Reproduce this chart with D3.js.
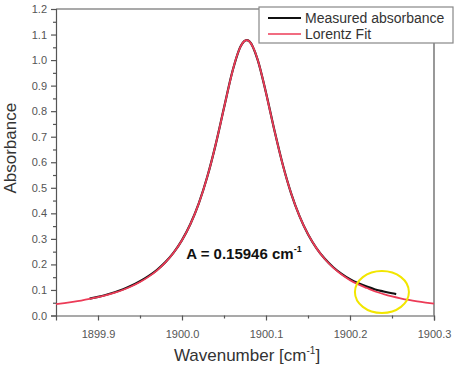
<!DOCTYPE html>
<html>
<head>
<meta charset="utf-8">
<script src="https://cdn.jsdelivr.net/npm/d3@7"></script>
<style>
  body { margin: 0; background: #fff; }
  svg { display: block; font-family: Arial, "Liberation Sans", sans-serif; }
  .tick text { fill: #555; font-size: 11px; }
</style>
</head>
<body>
<div id="chart"></div>
<script>
// Lorentz fit of the absorption line
const fitX = [1899.85, 1899.86, 1899.87, 1899.88, 1899.89, 1899.90, 1899.91, 1899.92,
  1899.93, 1899.94, 1899.95, 1899.96, 1899.97, 1899.98, 1899.99, 1900.00, 1900.005,
  1900.01, 1900.015, 1900.02, 1900.025, 1900.03, 1900.035, 1900.04, 1900.045, 1900.05,
  1900.055, 1900.06, 1900.065, 1900.07, 1900.075, 1900.077, 1900.08, 1900.085, 1900.09,
  1900.095, 1900.10, 1900.105, 1900.11, 1900.115, 1900.12, 1900.125, 1900.13, 1900.135,
  1900.14, 1900.15, 1900.16, 1900.17, 1900.18, 1900.19, 1900.20, 1900.21, 1900.22,
  1900.23, 1900.24, 1900.25, 1900.26, 1900.27, 1900.28, 1900.29, 1900.30]
const fitY = [0.0448, 0.0488, 0.0534, 0.0586, 0.0647, 0.0717, 0.0799, 0.0895,
  0.1009, 0.1146, 0.1311, 0.1512, 0.1759, 0.2067, 0.2456, 0.2949, 0.3245,
  0.3580, 0.3960, 0.4391, 0.4876, 0.5419, 0.6022, 0.6682, 0.7391, 0.8127,
  0.8859, 0.9545, 1.0127, 1.0549, 1.0761, 1.0780, 1.0737, 1.0480, 1.0021,
  0.9414, 0.8715, 0.7978, 0.7246, 0.6546, 0.5896, 0.5305, 0.4774, 0.4300,
  0.3881, 0.3183, 0.2638, 0.2212, 0.1874, 0.1604, 0.1386, 0.1218, 0.1075,
  0.0939, 0.0836, 0.0748, 0.0674, 0.0609, 0.0554, 0.0506, 0.0463]

// measured absorbance (black), only slightly off the fit in the tails
const measX = [1899.89, 1899.90, 1899.91, 1899.92, 1899.93, 1899.94, 1899.95, 1899.96,
  1899.97, 1899.98, 1899.99, 1900.00, 1900.01, 1900.02, 1900.03, 1900.04, 1900.05,
  1900.06, 1900.07, 1900.077, 1900.08, 1900.09, 1900.10, 1900.11, 1900.12, 1900.13,
  1900.14, 1900.15, 1900.16, 1900.17, 1900.18, 1900.19, 1900.20, 1900.21, 1900.22,
  1900.23, 1900.24, 1900.25, 1900.255]
const measY = [0.066, 0.073, 0.081, 0.091, 0.103, 0.117, 0.134, 0.154,
  0.178, 0.208, 0.246, 0.295, 0.358, 0.439, 0.542, 0.668, 0.813,
  0.955, 1.055, 1.078, 1.074, 1.002, 0.872, 0.725, 0.590, 0.477,
  0.388, 0.318, 0.264, 0.222, 0.189, 0.163, 0.142, 0.126, 0.113,
  0.102, 0.094, 0.087, 0.084]

const xTicks = [1899.9, 1900.0, 1900.1, 1900.2, 1900.3]
const xMinor = [1899.95, 1900.05, 1900.15, 1900.25]
const yTicks = [0, 0.1, 0.2, 0.3, 0.4, 0.5, 0.6, 0.7, 0.8, 0.9, 1.0, 1.1, 1.2]
const yMinor = [0.05, 0.15, 0.25, 0.35, 0.45, 0.55, 0.65, 0.75, 0.85, 0.95, 1.05, 1.15]

const seriesNames = ["Measured absorbance", "Lorentz Fit"]
const areaLabel = "A = 0.15946 cm"
const circled = {x: 1900.238, y: 0.092}

const WIDTH = 457, HEIGHT = 369
const PLOT = {LEFT: 56, RIGHT: 434, TOP: 9, BOTTOM: 315.5}
const AXIS_COLOR = "#555"
const FIT_COLOR = "#ec3b57"

const svg = d3.select("#chart").append("svg")
  .attr("width", WIDTH)
  .attr("height", HEIGHT)

const x = d3.scaleLinear().domain([1899.85, 1900.3]).range([PLOT.LEFT, PLOT.RIGHT])
const y = d3.scaleLinear().domain([0, 1.2]).range([PLOT.BOTTOM, PLOT.TOP])

// frame top + right
svg.append("path")
  .attr("d", `M${PLOT.LEFT},${PLOT.TOP}H${PLOT.RIGHT}V${PLOT.BOTTOM}`)
  .attr("fill", "none").attr("stroke", AXIS_COLOR).attr("stroke-width", 1.2)

// AXES
const xAxis = svg.append("g")
  .attr("transform", `translate(0,${PLOT.BOTTOM})`)
  .call(d3.axisBottom(x).tickValues(xTicks).tickFormat(d3.format(".1f"))
    .tickSizeOuter(0).tickSize(5).tickPadding(6))
svg.append("g")
  .attr("transform", `translate(0,${PLOT.BOTTOM})`)
  .call(d3.axisBottom(x).tickValues(xMinor).tickFormat("").tickSizeOuter(0).tickSize(3))
  .call(g => g.select(".domain").remove())

const yAxis = svg.append("g")
  .attr("transform", `translate(${PLOT.LEFT},0)`)
  .call(d3.axisLeft(y).tickValues(yTicks).tickFormat(d3.format(".1f"))
    .tickSizeOuter(0).tickSize(5).tickPadding(4))
svg.append("g")
  .attr("transform", `translate(${PLOT.LEFT},0)`)
  .call(d3.axisLeft(y).tickValues(yMinor).tickFormat("").tickSizeOuter(0).tickSize(3))
  .call(g => g.select(".domain").remove())

svg.selectAll(".domain, .tick line")
  .attr("stroke", AXIS_COLOR).attr("stroke-width", 1.2)
xAxis.selectAll(".tick text").attr("dy", "1.0em")

// axis titles
const xTitle = svg.append("text")
  .attr("x", (PLOT.LEFT + PLOT.RIGHT) / 2 + 2)
  .attr("y", 361)
  .attr("text-anchor", "middle")
  .attr("font-size", 17)
  .attr("fill", "#333")
xTitle.append("tspan").text("Wavenumber [cm")
xTitle.append("tspan").attr("font-size", 10).attr("dy", -7).text("-1")
xTitle.append("tspan").attr("dy", 7).text("]")

svg.append("text")
  .attr("transform", `translate(16,${(PLOT.TOP + PLOT.BOTTOM) / 2 - 14}) rotate(-90)`)
  .attr("text-anchor", "middle")
  .attr("font-size", 17)
  .attr("fill", "#333")
  .text("Absorbance")

// CURVES (fit drawn on top, the black only shows where they part)
const line = d3.line()
  .x(d => x(d[0]))
  .y(d => y(d[1]))
  .curve(d3.curveMonotoneX)

svg.append("path")
  .datum(d3.zip(measX, measY))
  .attr("d", line)
  .attr("fill", "none")
  .attr("stroke", "#111")
  .attr("stroke-width", 2.2)

svg.append("path")
  .datum(d3.zip(fitX, fitY))
  .attr("d", line)
  .attr("fill", "none")
  .attr("stroke", FIT_COLOR)
  .attr("stroke-width", 1.8)

// annotation
const ann = svg.append("text")
  .attr("x", x(1900.005))
  .attr("y", y(0.222))
  .attr("font-size", 15)
  .attr("font-weight", "bold")
  .attr("fill", "#111")
ann.append("tspan").text(areaLabel)
ann.append("tspan").attr("font-size", 9).attr("dy", -7).text("-1")

svg.append("ellipse")
  .attr("cx", x(circled.x))
  .attr("cy", y(circled.y))
  .attr("rx", 27)
  .attr("ry", 21)
  .attr("fill", "none")
  .attr("stroke", "#f2e600")
  .attr("stroke-width", 2)

// LEGEND
const legend = svg.append("g").attr("transform", "translate(259,7)")
legend.append("rect")
  .attr("width", 194).attr("height", 36)
  .attr("fill", "#fff")
  .attr("stroke", "#888").attr("stroke-width", 1.2)

const legendColors = ["#111", FIT_COLOR]
seriesNames.forEach((name, i) => {
  const row = legend.append("g").attr("transform", `translate(0,${11 + i * 16})`)
  row.append("line")
    .attr("x1", 9).attr("x2", 42)
    .attr("stroke", legendColors[i])
    .attr("stroke-width", i === 0 ? 2 : 1.5)
  row.append("text")
    .attr("x", 46).attr("y", 5)
    .attr("font-size", 14)
    .attr("fill", "#333")
    .text(name)
})
</script>
</body>
</html>
